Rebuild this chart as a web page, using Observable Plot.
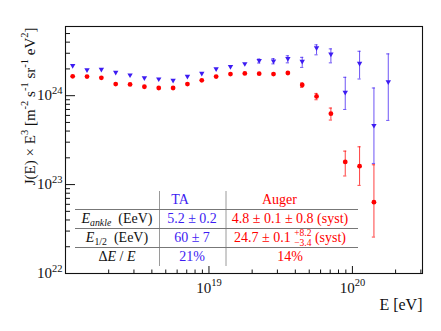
<!DOCTYPE html>
<html><head><meta charset="utf-8">
<script src="https://cdn.jsdelivr.net/npm/d3@7"></script>
<script src="https://cdn.jsdelivr.net/npm/@observablehq/plot@0.6"></script>
<style>body{margin:0;background:#fff}</style>
</head><body>
<script>
// ---- data ----
const logE = [18.05,18.15,18.25,18.35,18.45,18.55,18.65,18.75,18.85,18.95,19.05,19.15,19.25,19.35,19.45,19.55,19.65,19.75,19.85,19.95,20.05,20.15,20.25];
// J(E) x E^3 in units of 1e24 m^-2 s^-1 sr^-1 eV^2
const taJ   = [2.18,1.95,1.98,1.83,1.71,1.59,1.54,1.49,1.65,1.78,2.00,2.12,2.29,2.48,2.45,2.61,2.43,3.45,2.93,1.09,2.31,0.462,1.43];
const taLo  = [null,null,null,null,null,null,null,null,null,null,null,null,null,2.33,2.28,2.34,2.08,2.88,2.34,0.70,1.54,0.173,0.527];
const taHi  = [null,null,null,null,null,null,null,null,null,null,null,null,null,2.58,2.61,2.81,2.70,3.73,3.36,1.61,3.16,1.22,2.95];
const augerJ  = [1.65,1.64,1.59,1.35,1.34,1.26,1.22,1.22,1.35,1.49,1.64,1.75,1.78,1.77,1.75,1.80,1.32,0.98,0.627,0.180,0.161,0.0634];
const augerLo = [null,null,null,null,null,null,null,null,null,null,null,null,null,null,null,null,1.24,0.90,0.532,0.125,0.098,0.0257];
const augerHi = [null,null,null,null,null,null,null,null,null,null,null,null,null,null,null,null,1.39,1.06,0.726,0.238,0.266,0.167];

const xMajorTicks = [1e19, 1e20];
const xMinorTicks = [2e18,3e18,4e18,5e18,6e18,7e18,8e18,9e18,2e19,3e19,4e19,5e19,6e19,7e19,8e19,9e19,2e20,3e20];
const yMajorTicks = [1e22, 1e23, 1e24];
const yMinorTicks = [2e22,3e22,4e22,5e22,6e22,7e22,8e22,9e22,2e23,3e23,4e23,5e23,6e23,7e23,8e23,9e23,2e24,3e24,4e24,5e24];

const xLabel = "E [eV]";
const yLabel = "J(E) × E^{3} [m^{-2} s^{-1} sr^{-1} eV^{2}]";

const tableHeader = ["TA", "Auger"];
const tableRowLabels = ["*E*_{*ankle*}  (EeV)", "*E*_{1/2}  (EeV)", "Δ*E* / *E*"];
const tableTA = ["5.2 ± 0.2", "60 ± 7", "21%"];
const tableAuger = ["4.8 ± 0.1 ± 0.8 (syst)", "24.7 ± 0.1 ^{+8.2}~{−3.4} (syst)", "14%"];

// ---- build tables for Plot ----
const ta = logE.map((l, i) => ({E: 10 ** l, J: taJ[i] * 1e24, lo: taLo[i] == null ? null : taLo[i] * 1e24, hi: taHi[i] == null ? null : taHi[i] * 1e24}));
const auger = augerJ.map((v, i) => ({E: 10 ** logE[i], J: v * 1e24, lo: augerLo[i] == null ? null : augerLo[i] * 1e24, hi: augerHi[i] == null ? null : augerHi[i] * 1e24}));
const taErr = ta.filter(d => d.lo != null);
const augerErr = auger.filter(d => d.lo != null);

const BLUE = "#3d1cf2", RED = "#ff0000";
const xDom = [1e18, 3.08e20], yDom = [1e22, 6e24];

const triangleDown = {
  draw(ctx, size) {
    const s3 = Math.sqrt(3);
    const y = Math.sqrt(size / (s3 * 3));
    ctx.moveTo(0, y * 2);
    ctx.lineTo(-s3 * y, -y);
    ctx.lineTo(s3 * y, -y);
    ctx.closePath();
  }
};
const fmtPow = d => "10^{" + Math.round(Math.log10(d)) + "}";

const chart = Plot.plot({
  width: 441, height: 331,
  marginLeft: 65, marginRight: 19, marginTop: 26, marginBottom: 58,
  x: {type: "log", domain: xDom},
  y: {type: "log", domain: yDom},
  style: {fontFamily: '"Liberation Serif", "Times New Roman", serif', fontSize: "15px", background: "#fff", color: "#111"},
  marks: [
    Plot.frame({stroke: "#111", strokeWidth: 1.1}),
    // ticks pointing inward
    Plot.ruleY(yMajorTicks, {y: d => d, x1: xDom[0], x2: xDom[0], insetRight: -10, stroke: "#111"}),
    Plot.ruleY(yMinorTicks, {y: d => d, x1: xDom[0], x2: xDom[0], insetRight: -5, stroke: "#111"}),
    Plot.ruleX(xMajorTicks, {x: d => d, y1: yDom[0], y2: yDom[0], insetTop: -7, stroke: "#111"}),
    Plot.ruleX(xMinorTicks, {x: d => d, y1: yDom[0], y2: yDom[0], insetTop: -3.5, stroke: "#111"}),
    Plot.axisY({ticks: yMajorTicks, tickSize: 0, tickPadding: 3, tickFormat: fmtPow, fontSize: 15, label: null}),
    Plot.axisX({ticks: xMajorTicks, tickSize: 0, tickPadding: 9, tickFormat: fmtPow, fontSize: 15, label: null}),
    Plot.text([yLabel], {frameAnchor: "top-left", text: d => d, rotate: -90, textAnchor: "end", lineAnchor: "top", dx: -41, dy: 1, fontSize: 15}),
    Plot.text([xLabel], {frameAnchor: "bottom-right", text: d => d, textAnchor: "end", lineAnchor: "bottom", dy: 36, fontSize: 16}),
    // TA error bars
    Plot.ruleX(taErr, {x: "E", y1: "lo", y2: "hi", stroke: BLUE, strokeOpacity: 0.75}),
    Plot.ruleY(taErr, {y: "lo", x1: "E", x2: "E", insetLeft: -1.6, insetRight: -1.6, stroke: BLUE, strokeOpacity: 0.75}),
    Plot.ruleY(taErr, {y: "hi", x1: "E", x2: "E", insetLeft: -1.6, insetRight: -1.6, stroke: BLUE, strokeOpacity: 0.75}),
    // Auger error bars
    Plot.ruleX(augerErr, {x: "E", y1: "lo", y2: "hi", stroke: RED, strokeOpacity: 0.75}),
    Plot.ruleY(augerErr, {y: "lo", x1: "E", x2: "E", insetLeft: -1.6, insetRight: -1.6, stroke: RED, strokeOpacity: 0.75}),
    Plot.ruleY(augerErr, {y: "hi", x1: "E", x2: "E", insetLeft: -1.6, insetRight: -1.6, stroke: RED, strokeOpacity: 0.75}),
    Plot.dot(ta, {x: "E", y: "J", symbol: triangleDown, r: 2.0, fill: BLUE, stroke: "none"}),
    Plot.dot(auger, {x: "E", y: "J", symbol: "circle", r: 2.4, fill: RED, stroke: "none"})
  ]
});
document.body.appendChild(chart);

// ---- rich text helpers (super/subscripts, italics) ----
const NS = "http://www.w3.org/2000/svg";
function parseMarkup(s) {
  const segs = [];
  const re = /([\^_~])\{([^}]*)\}|\*([^*]*)\*|([^\^_~*]+)/g;
  let m;
  while ((m = re.exec(s))) {
    if (m[4] !== undefined) segs.push({t: m[4]});
    else if (m[3] !== undefined) segs.push({t: m[3], italic: true});
    else {
      let t = m[2], italic = false;
      if (/^\*.*\*$/.test(t)) { t = t.slice(1, -1); italic = true; }
      if (m[1] === "^") segs.push({t, sup: true, italic});
      else if (m[1] === "_") segs.push({t, sub: true, italic});
      else segs.push({t, sub: true, under: true, italic});
    }
  }
  return segs;
}
function renderSegments(el, segs, size, opt = {}) {
  while (el.firstChild) el.removeChild(el.firstChild);
  el.setAttribute("xml:space", "preserve");
  el.style.whiteSpace = "pre";
  const raise = opt.raise ?? 0.45, drop = opt.drop ?? 0.22, scale = opt.scale ?? 0.7;
  let cur = 0, prevW = 0, fixDx = 0;
  for (const s of segs) {
    const t = document.createElementNS(NS, "tspan");
    t.textContent = s.t;
    const small = s.sup || s.sub;
    const target = s.sup ? -raise * size : s.sub ? drop * size : 0;
    if (small) t.setAttribute("font-size", scale * size);
    if (s.italic) t.setAttribute("font-style", "italic");
    if (target !== cur) t.setAttribute("dy", target - cur);
    cur = target;
    let dx = fixDx; fixDx = 0;
    if (s.under) dx -= prevW;
    if (dx) t.setAttribute("dx", dx);
    el.appendChild(t);
    const w = t.getComputedTextLength();
    if (s.under) fixDx = Math.max(0, prevW - w);
    prevW = w;
  }
}
// axis tick labels and axis title
d3.select(chart).selectAll("text").each(function () {
  const s = this.textContent;
  if (/[\^_]\{/.test(s)) {
    const size = parseFloat(getComputedStyle(this).fontSize) || 15;
    renderSegments(this, parseMarkup(s), size, {raise: 0.45, scale: 0.7});
  }
});

// ---- inset table ----
const T = {left: 75, right: 358, v: [159.5, 226], top: 191, bottom: 266, h: [209.5, 228.5, 247.5],
           headY: 204, rowY: [223, 242, 261], labelX: 117, taX: 192, augerX: 290, headX: [180, 279.5], size: 14};
const tg = d3.select(chart).append("g").attr("aria-label", "table")
  .attr("font-family", '"Liberation Serif", "Times New Roman", serif').attr("font-size", T.size);
T.v.forEach(x => tg.append("line").attr("x1", x).attr("x2", x).attr("y1", T.top).attr("y2", T.bottom).attr("stroke", "#9a9a9a"));
T.h.forEach(y => tg.append("line").attr("x1", T.left).attr("x2", T.right).attr("y1", y).attr("y2", y).attr("stroke", "#777"));
function cell(x, y, str, color, opt) {
  const t = tg.append("text").attr("x", x).attr("y", y).attr("text-anchor", "middle").attr("fill", color);
  renderSegments(t.node(), parseMarkup(str), T.size, opt);
}
cell(T.headX[0], T.headY, tableHeader[0], BLUE);
cell(T.headX[1], T.headY, tableHeader[1], RED);
tableRowLabels.forEach((s, i) => cell(T.labelX, T.rowY[i], s, "#111", {drop: 0.22}));
tableTA.forEach((s, i) => cell(T.taX, T.rowY[i], s, BLUE));
tableAuger.forEach((s, i) => cell(T.augerX, T.rowY[i], s, RED, {raise: 0.42, drop: 0.3, scale: 0.68}));
</script>
</body></html>
